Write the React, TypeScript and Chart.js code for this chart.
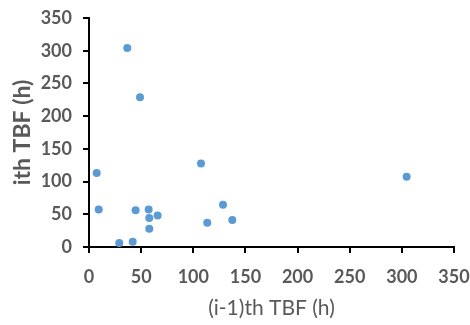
import React, { useEffect, useRef } from "react";
import { Chart, registerables } from "chart.js";

Chart.register(...registerables);

const prevTBF = [36.7, 48.9, 7.4, 9.3, 29, 41.9, 44.7, 57.2, 57.8, 57.8, 65.8, 107.4, 113.4, 128.5, 137.4, 304.6];
const currTBF = [304, 229, 113, 57.5, 6, 8, 56, 57.5, 44.3, 28, 48.3, 127.7, 37, 64.6, 41.2, 107.4];
const xTitle = "(i-1)th TBF (h)";
const yTitle = "ith TBF (h)";
const axisMin = 0;
const axisMax = 350;
const axisStep = 50;

export default function App() {
  const ref = useRef<HTMLCanvasElement | null>(null);
  useEffect(() => {
    document.body.style.margin = "0";
    const ctx = ref.current!.getContext("2d")!;
    const data = prevTBF.map((x, i) => ({ x, y: currTBF[i] }));
    const tickFont = { family: "Lato", size: 18, weight: "bold" as const };
    const chart = new Chart(ctx, {
      type: "scatter",
      data: {
        datasets: [
          {
            data,
            backgroundColor: "#5B9BD5",
            borderWidth: 0,
            pointRadius: 4,
          },
        ],
      },
      options: {
        animation: false,
        responsive: false,
        layout: { padding: { top: 18, right: 16, bottom: 0, left: 0 } },
        plugins: { legend: { display: false }, tooltip: { enabled: false } },
        scales: {
          x: {
            type: "linear",
            min: axisMin,
            max: axisMax,
            ticks: { stepSize: axisStep, color: "#595959", font: tickFont, padding: 13, maxRotation: 0 },
            grid: { drawOnChartArea: false, drawTicks: true, tickLength: 6, color: "#000", lineWidth: 2 },
            border: { display: true, color: "#000", width: 2 },
            title: {
              display: true,
              text: xTitle,
              color: "#595959",
              font: { family: "Lato", size: 21, weight: "normal" },
              padding: { top: 0, bottom: 4 },
            },
            afterFit: (scale: any) => {
              scale.height = 78;
              scale.paddingRight = 0;
              scale.paddingLeft = 0;
            },
          },
          y: {
            type: "linear",
            min: axisMin,
            max: axisMax,
            ticks: { stepSize: axisStep, color: "#595959", font: tickFont, padding: 11 },
            grid: { drawOnChartArea: false, drawTicks: true, tickLength: 6, color: "#000", lineWidth: 2 },
            border: { display: true, color: "#000", width: 2 },
            title: {
              display: true,
              text: yTitle,
              color: "#595959",
              font: { family: "Lato", size: 23, weight: "bold" },
              padding: { top: 9, bottom: 0 },
            },
            afterFit: (scale: any) => {
              scale.width = 89;
              scale.paddingTop = 0;
              scale.paddingBottom = 0;
            },
          },
        },
      },
    });
    return () => chart.destroy();
  }, []);
  return <canvas ref={ref} width={470} height={325} style={{ display: "block" }} />;
}
